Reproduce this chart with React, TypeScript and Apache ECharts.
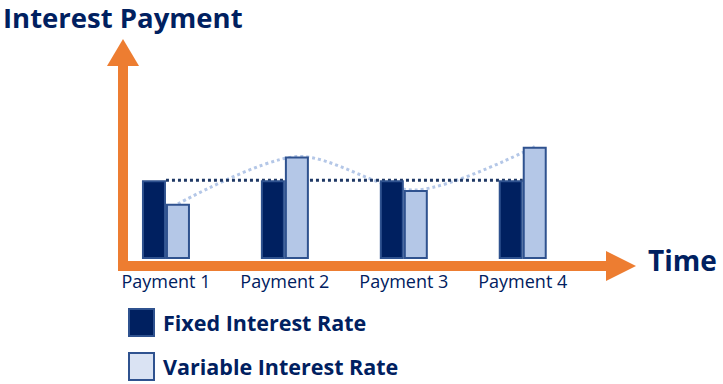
import React, { useEffect, useRef } from "react";
import * as echarts from "echarts";

const categories = ["Payment 1", "Payment 2", "Payment 3", "Payment 4"];
const fixedRates = [4, 4, 4, 4];
const variableRates = [2.8, 5.2, 3.5, 5.7];
const seriesNames = ["Fixed Interest Rate", "Variable Interest Rate"];

const NAVY = "#002060";
const BORDER = "#2F528F";
const LIGHT = "#B4C7E7";
const ORANGE = "#ED7D31";
const FONT = "'Open Sans', 'Noto Sans', sans-serif";
const BAR_W = 24;

export default function App() {
  const ref = useRef<HTMLDivElement>(null);
  useEffect(() => {
    if (!ref.current) return;
    const chart = echarts.init(ref.current, null, { renderer: "svg" });
    chart.setOption({
      animation: false,
      title: [
        {
          text: "Interest Payment",
          left: 3,
          top: 5,
          padding: 0,
          textStyle: { fontSize: 27.5, lineHeight: 24, fontWeight: "bold", color: NAVY, fontFamily: FONT },
        },
        {
          text: "Time",
          left: 648,
          top: 246,
          padding: 0,
          textStyle: { fontSize: 28, fontWeight: "bold", color: NAVY, fontFamily: FONT },
        },
      ],
      grid: { left: 106.5, right: 140.8, top: 62, bottom: 125, containLabel: false },
      xAxis: {
        type: "category",
        data: categories,
        axisLine: { show: false },
        axisTick: { show: false },
        axisLabel: { color: NAVY, fontSize: 18, fontFamily: FONT, margin: 13 },
      },
      yAxis: {
        type: "value",
        min: 0,
        max: 10,
        show: false,
        splitLine: { show: false },
      },
      legend: {
        data: [
          { name: seriesNames[0], itemStyle: { color: NAVY } },
          { name: seriesNames[1], itemStyle: { color: "#DAE3F3" } },
        ],
        orient: "vertical",
        left: 128,
        top: 308,
        padding: 0,
        itemWidth: 25,
        itemHeight: 27,
        itemGap: 15,
        icon: "rect",
        selectedMode: false,
        itemStyle: { borderColor: BORDER, borderWidth: 2 },
        textStyle: {
          fontSize: 21.5,
          fontWeight: "bold",
          color: NAVY,
          fontFamily: FONT,
          padding: [0, 0, 0, 4],
        },
      },
      graphic: [
        { type: "rect", shape: { x: 118, y: 62, width: 10, height: 209 }, style: { fill: ORANGE }, z: 0 },
        { type: "polygon", shape: { points: [[107, 66], [123, 39], [139, 66]] }, style: { fill: ORANGE }, z: 0 },
        { type: "rect", shape: { x: 118, y: 261, width: 490, height: 10 }, style: { fill: ORANGE }, z: 0 },
        { type: "polygon", shape: { points: [[606, 251], [636, 266], [606, 281]] }, style: { fill: ORANGE }, z: 0 },
      ],
      series: [
        {
          name: "fixedLine",
          type: "line",
          data: fixedRates,
          symbol: "none",
          z: 1,
          silent: true,
          lineStyle: { color: "#1F3864", width: 3, type: [3, 3] },
        },
        {
          name: "variableLine",
          type: "custom",
          z: 1,
          silent: true,
          data: variableRates.map((v, i) => [i, v]),
          encode: { x: 0, y: 1 },
          renderItem: (params: any, api: any) => {
            if (params.dataIndex !== 0) return null;
            const pts = variableRates.map((v, i) => {
              const p = api.coord([i, v]);
              return [p[0] + BAR_W / 2, p[1]];
            });
            return {
              type: "polyline",
              shape: { points: pts, smooth: 0.3 },
              style: { stroke: LIGHT, lineWidth: 3, lineDash: [3, 3], fill: null },
            };
          },
        },
        {
          name: seriesNames[0],
          type: "bar",
          data: fixedRates,
          barWidth: BAR_W,
          barGap: "0%",
          z: 2,
          itemStyle: { color: NAVY, borderColor: BORDER, borderWidth: 2 },
        },
        {
          name: seriesNames[1],
          type: "bar",
          data: variableRates,
          barWidth: BAR_W,
          barGap: "0%",
          z: 2,
          itemStyle: { color: LIGHT, borderColor: BORDER, borderWidth: 2 },
        },
      ],
    });
    return () => chart.dispose();
  }, []);
  return (
    <div
      ref={ref}
      style={{ position: "absolute", left: 0, top: 0, width: 723, height: 384, background: "#fff" }}
    />
  );
}
